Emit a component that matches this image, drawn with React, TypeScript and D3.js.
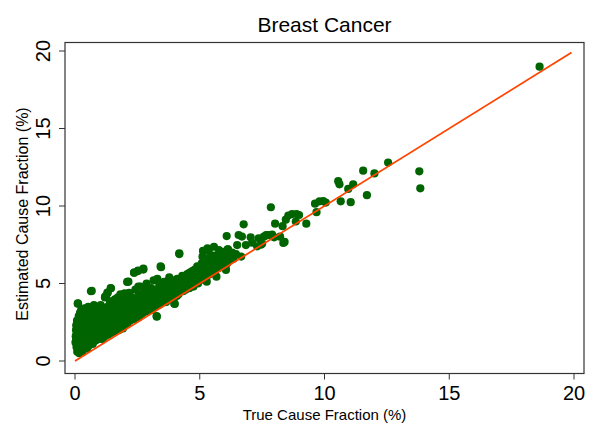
import React from 'react';
import * as d3 from 'd3';

const TITLE = 'Breast Cancer';
const X_TITLE = 'True Cause Fraction (%)';
const Y_TITLE = 'Estimated Cause Fraction (%)';
const X_TICKS = [0, 5, 10, 15, 20];
const Y_TICKS = [0, 5, 10, 15, 20];
const LINE_ENDS = [0, 19.9];

// [true CF, estimated CF]
const lowBand: [number, number][] = [
  [0.02,1.2],[0.03,1.6],[0.04,2.0],[0.05,1.4],[0.05,2.3],[0.06,0.9],[0.07,1.8],[0.08,1.1],[0.08,2.6],[0.09,0.6],
  [0.1,1.5],[0.1,2.1],[0.11,3.7],[0.12,0.8],[0.12,1.3],[0.13,1.9],[0.14,2.4],[0.15,1.0],[0.15,2.9],[0.16,1.6],
  [0.17,0.5],[0.18,2.2],[0.18,1.2],[0.19,1.8],[0.2,3.1],[0.2,0.7],[0.2,2.6],
  [0.22,1.4],[0.23,2.0],[0.24,0.9],[0.25,3.3],[0.25,1.7],[0.26,2.4],[0.27,1.1],[0.28,2.8],[0.29,0.6],[0.3,1.9],
  [0.3,1.3],[0.31,2.2],[0.32,3.0],[0.33,0.8],[0.34,1.6],[0.35,2.6],[0.36,1.0],[0.37,2.0],[0.38,3.4],[0.39,1.4],
  [0.4,2.3],[0.41,0.9],[0.42,1.8],[0.43,2.9],[0.44,1.2],[0.45,2.5],[0.46,3.2],[0.47,1.5],[0.48,2.1],[0.49,0.8],[0.5,2.7],
  [0.52,1.3],[0.53,3.5],[0.54,1.9],[0.55,2.3],[0.56,1.0],[0.57,2.9],[0.58,1.6],[0.6,3.1],[0.6,2.0],[0.62,1.2],
  [0.63,2.5],[0.64,4.5],[0.65,1.7],[0.66,3.3],[0.67,2.2],[0.68,1.4],[0.7,2.8],[0.71,1.1],[0.72,3.0],[0.73,1.9],
  [0.75,2.4],[0.76,3.6],[0.77,1.5],[0.78,2.1],[0.8,2.7],[0.81,1.3],[0.82,3.2],[0.84,1.8],[0.85,2.3],[0.86,3.5],
  [0.88,1.6],[0.9,2.9],[0.91,2.0],[0.92,1.4],[0.94,3.3],[0.95,2.5],[0.96,1.7],[0.98,3.0],[1.0,2.2],
];

const midBand: [number, number][] = [
  [1.02,1.5],[1.03,3.6],[1.05,2.6],[1.06,1.9],[1.08,3.1],[1.1,2.3],[1.11,1.4],[1.13,2.9],[1.15,3.4],[1.16,1.8],
  [1.18,2.5],[1.2,4.1],[1.21,1.6],[1.22,3.0],[1.24,2.2],[1.25,4.2],[1.27,1.9],[1.28,2.7],[1.3,3.5],[1.31,4.4],
  [1.33,1.7],[1.35,3.2],[1.36,2.4],[1.38,2.0],[1.4,3.8],[1.41,2.8],[1.43,4.7],[1.44,1.8],[1.46,3.3],[1.48,2.3],[1.5,3.0],
  [1.52,2.0],[1.53,3.9],[1.55,2.6],[1.57,3.5],[1.58,1.9],[1.6,2.9],[1.62,4.0],[1.63,2.3],[1.65,3.3],[1.67,2.1],
  [1.68,3.7],[1.7,2.7],[1.72,4.1],[1.74,2.4],[1.75,3.1],[1.77,2.0],[1.79,3.6],[1.8,2.8],[1.82,4.3],[1.84,2.2],
  [1.86,3.4],[1.88,2.6],[1.9,3.9],[1.92,2.1],[1.94,3.0],[1.95,2.5],[1.97,3.7],[2.0,2.4],
  [2.02,3.2],[2.05,2.8],[2.07,4.0],[2.09,5.1],[2.1,2.4],[2.12,3.5],[2.15,3.0],[2.17,4.4],[2.2,2.6],[2.22,3.7],
  [2.24,3.3],[2.26,2.8],[2.28,4.1],[2.3,3.0],[2.33,3.6],[2.35,2.7],[2.37,5.7],[2.38,3.9],[2.4,3.2],[2.42,4.6],
  [2.44,2.9],[2.46,3.5],[2.48,4.0],[2.5,3.1],
  [2.52,5.8],[2.54,3.6],[2.55,2.8],[2.57,4.3],[2.6,3.3],[2.62,4.8],[2.64,3.0],[2.66,3.9],[2.68,3.5],[2.7,4.2],
  [2.72,3.1],[2.74,5.9],[2.76,3.7],[2.78,4.6],[2.8,3.3],[2.83,4.0],[2.85,3.5],[2.87,5.0],[2.9,3.2],[2.92,4.4],
  [2.95,3.8],[2.97,3.4],[3.0,4.1],
  [3.02,3.5],[3.05,4.7],[3.07,3.9],[3.1,3.3],[3.12,4.3],[3.15,5.2],[3.17,3.7],[3.2,4.0],[3.22,3.5],[3.25,4.6],
  [3.27,2.9],[3.28,3.8],[3.3,5.3],[3.32,4.2],[3.35,3.6],[3.38,4.9],[3.4,4.0],[3.43,6.1],[3.45,3.7],[3.47,4.4],[3.5,4.8],
  [3.52,3.9],[3.55,4.3],[3.57,5.1],[3.6,4.0],[3.63,4.6],[3.65,3.8],[3.68,5.0],[3.7,4.2],[3.73,4.7],[3.75,4.0],
  [3.78,5.4],[3.8,4.4],[3.83,4.1],[3.85,4.9],[3.88,4.3],[3.9,5.2],[3.93,4.6],[3.95,4.0],[3.98,3.7],[4.0,4.8],
  [4.03,4.4],[4.05,5.0],[4.08,4.2],[4.1,5.3],[4.13,4.6],[4.15,4.3],[4.18,6.9],[4.2,4.9],[4.23,4.5],[4.25,5.2],
  [4.28,4.7],[4.3,5.5],[4.33,4.5],[4.35,5.0],[4.38,4.8],[4.4,5.4],[4.43,4.6],[4.45,5.1],[4.48,4.7],[4.5,5.6],
  [4.52,4.9],[4.55,5.3],[4.58,4.7],[4.6,5.7],[4.63,5.0],[4.65,5.4],[4.68,4.9],[4.7,5.8],[4.72,5.2],[4.75,4.8],
  [4.78,5.5],[4.8,5.9],[4.83,5.1],[4.85,5.6],[4.88,5.3],[4.9,6.1],[4.93,5.0],[4.95,5.5],[4.98,5.8],[5.0,5.2],
];

const upperBand: [number, number][] = [
  [5.02,6.0],[5.05,5.6],[5.08,6.3],[5.1,5.4],[5.13,7.1],[5.15,5.9],[5.18,6.5],[5.2,5.3],[5.22,6.2],[5.25,5.7],
  [5.28,6.6],[5.3,5.5],[5.33,6.0],[5.36,7.1],[5.38,6.3],[5.4,5.6],[5.43,6.7],[5.46,5.9],[5.48,6.2],[5.5,6.5],
  [5.52,5.8],[5.55,6.1],[5.58,6.8],[5.6,6.4],[5.63,5.9],[5.66,6.6],[5.7,6.2],[5.73,6.8],[5.76,6.0],[5.8,6.5],
  [5.83,6.3],[5.86,6.7],[5.9,6.1],[5.95,6.4],[6.0,6.6],[6.05,5.87],[6.1,6.3],[6.13,7.2],[6.17,6.7],[6.2,6.5],[6.26,6.73],
  [5.31,7.27],[5.57,7.37],[5.77,7.16],[5.97,7.05],[6.17,6.95],[5.11,6.73],[5.52,6.52],[5.77,6.41],[6.04,6.73],
  [5.26,6.08],[5.45,5.66],[5.04,5.44],[6.04,5.98],[5.67,5.44],[5.28,5.12],[6.35,6.6],[6.45,6.9],[6.3,7.0],
  [4.18,6.95],[3.45,6.05],[2.74,5.96],[2.53,5.83],[2.37,5.7],[2.14,5.12],[1.44,4.69],[1.3,4.41],[1.21,4.15],
  [0.67,4.52],[0.12,3.72],[1.99,4.37],[3.28,2.86],[4.0,3.68],[2.54,4.8],
];

const highBand: [number, number][] = [
  [18.62,18.99],[13.8,12.24],[13.84,11.14],[12.55,12.8],[11.55,12.28],[12.0,12.1],[11.7,10.7],[10.55,11.6],
  [10.6,11.4],[10.95,11.1],[11.15,11.4],[10.65,10.3],[11.05,10.25],[9.62,10.15],[9.8,10.3],[9.95,10.32],
  [10.05,10.22],[9.68,9.6],[7.85,9.92],[9.27,8.86],[8.55,9.38],[8.7,9.48],[8.88,9.48],[8.98,9.42],[8.45,9.12],
  [8.85,9.0],[8.02,8.86],[8.32,8.7],[8.4,7.68],[8.22,8.02],[6.76,8.82],[6.08,8.06],[6.56,8.13],[6.69,8.03],
  [7.04,7.98],[7.36,7.92],[7.57,8.02],[7.73,8.12],[7.98,7.98],[7.45,7.5],[7.1,7.63],[6.85,7.48],[6.5,7.48],
  [6.12,7.2],[6.66,6.74],[7.5,7.56],[7.66,8.13],[8.35,7.62],[7.3,7.4],[7.9,8.15],
];

const allPoints = [...lowBand, ...midBand, ...upperBand, ...highBand];

const FONT = '"Liberation Sans", Arial, Helvetica, sans-serif';

export default function App() {
  const W = 600, H = 436;
  const frame = { left: 65, right: 584, top: 42.5, bottom: 373.5 };
  const x = d3.scaleLinear().domain([0, 20]).range([75, 574]);
  const y = d3.scaleLinear().domain([0, 20]).range([361, 51]);
  const line = d3.line<number>().x(d => x(d)).y(d => y(d));
  const axisColor = '#333';
  const cx = (frame.left + frame.right) / 2;

  return (
    <svg width={W} height={H} style={{ position: 'absolute', left: 0, top: 0, background: '#fff' }} fontFamily={FONT}>
      <rect x={0} y={0} width={W} height={H} fill="#fff" />
      <text x={cx} y={32} textAnchor="middle" fontSize={21} fill="#000">{TITLE}</text>
      <g>
        {allPoints.map((p, i) => (
          <circle key={i} cx={x(p[0])} cy={y(p[1])} r={4.1} fill="#006400" />
        ))}
      </g>
      <path d={line(LINE_ENDS) || ''} stroke="#FF4500" strokeWidth={1.8} fill="none" />
      <rect x={frame.left} y={frame.top} width={frame.right - frame.left} height={frame.bottom - frame.top}
        fill="none" stroke={axisColor} strokeWidth={1.2} />
      {X_TICKS.map(t => (
        <g key={'x' + t}>
          <line x1={x(t)} x2={x(t)} y1={frame.bottom} y2={frame.bottom + 6} stroke={axisColor} strokeWidth={1} />
          <text x={x(t)} y={400} textAnchor="middle" fontSize={20} fill="#000">{t}</text>
        </g>
      ))}
      {Y_TICKS.map(t => (
        <g key={'y' + t}>
          <line x1={frame.left - 6} x2={frame.left} y1={y(t)} y2={y(t)} stroke={axisColor} strokeWidth={1} />
          <text transform={`translate(50,${y(t)}) rotate(-90)`} textAnchor="middle" fontSize={20} fill="#000">{t}</text>
        </g>
      ))}
      <text x={cx} y={420} textAnchor="middle" fontSize={15} fill="#000">{X_TITLE}</text>
      <text transform={`translate(28,214) rotate(-90)`} textAnchor="middle" fontSize={16} fill="#000">{Y_TITLE}</text>
    </svg>
  );
}
